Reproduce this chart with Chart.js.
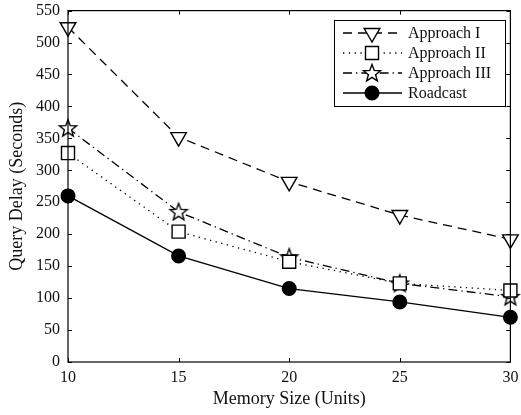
<!DOCTYPE html>
<html>
<head>
<meta charset="utf-8">
<script src="https://cdn.jsdelivr.net/npm/chart.js@4/dist/chart.umd.min.js"></script>
<style>
  html, body { margin: 0; padding: 0; background: #fff; }
  #wrap { width: 521px; height: 415px; }
</style>
</head>
<body>
<div id="wrap"><canvas id="chart" width="521" height="415"></canvas></div>
<script>
// data
const memorySizes = [10, 15, 20, 25, 30];
const approach1 = [524, 352, 282, 230, 192];
const approach2 = [327, 204, 157, 123, 112];
const approach3 = [366, 235, 164, 123, 102];
const roadcast = [260, 166, 115, 94, 70];
const yTicks = [0, 50, 100, 150, 200, 250, 300, 350, 400, 450, 500, 550];

const FONT = "'Liberation Serif', 'Times New Roman', serif";

// 5-pointed star marker (Chart.js 'star' is an asterisk)
function makeStar(outer, inner) {
    const size = Math.ceil(outer * 2 + 4);
    const c = document.createElement("canvas");
    c.width = size; c.height = size;
    const ctx = c.getContext("2d");
    const cx = size / 2, cy = size / 2 + 0.5;
    ctx.beginPath();
    for (let i = 0; i < 10; i++) {
        const r = i % 2 === 0 ? outer : inner;
        const a = -Math.PI / 2 + i * Math.PI / 5;
        const px = cx + r * Math.cos(a), py = cy + r * Math.sin(a);
        if (i === 0) ctx.moveTo(px, py); else ctx.lineTo(px, py);
    }
    ctx.closePath();
    ctx.fillStyle = "#fff";
    ctx.fill();
    ctx.lineWidth = 1.4;
    ctx.strokeStyle = "#000";
    ctx.stroke();
    return c;
}
const starImg = makeStar(9, 3.8);

function series(label, values, dash, style, radius, fill, rotation) {
    return {
        label: label,
        data: values,
        borderColor: "#000",
        borderWidth: 1.3,
        borderDash: dash,
        pointStyle: style,
        pointRadius: radius,
        pointHoverRadius: radius,
        pointRotation: rotation || 0,
        pointBackgroundColor: fill,
        pointBorderColor: "#000",
        pointBorderWidth: 1.4,
        fill: false,
        tension: 0,
        clip: false,
    };
}

// frame with inward ticks on all four sides
const framePlugin = {
    id: "frame",
    afterDatasetsDraw(chart) {
        const { ctx, chartArea: a, scales } = chart;
        ctx.save();
        ctx.strokeStyle = "#000";
        ctx.lineWidth = 1.2;
        ctx.strokeRect(a.left, a.top, a.right - a.left, a.bottom - a.top);
        ctx.lineWidth = 1;
        ctx.beginPath();
        memorySizes.forEach((v) => {
            const x = Math.round(scales.x.getPixelForValue(v)) + 0.5;
            ctx.moveTo(x, a.bottom); ctx.lineTo(x, a.bottom - 4);
            ctx.moveTo(x, a.top); ctx.lineTo(x, a.top + 4);
        });
        yTicks.forEach((v) => {
            const y = Math.round(scales.y.getPixelForValue(v)) + 0.5;
            ctx.moveTo(a.left, y); ctx.lineTo(a.left + 4, y);
            ctx.moveTo(a.right, y); ctx.lineTo(a.right - 4, y);
        });
        ctx.stroke();
        ctx.restore();
    },
};

// legend box inside the plot, top right
const legendPlugin = {
    id: "boxLegend",
    afterDraw(chart) {
        const ctx = chart.ctx;
        const box = { left: 334, top: 20, right: 505, bottom: 106 };
        ctx.save();
        ctx.fillStyle = "#fff";
        ctx.fillRect(box.left, box.top, box.right - box.left, box.bottom - box.top);
        ctx.strokeStyle = "#000";
        ctx.lineWidth = 1;
        ctx.strokeRect(box.left + 0.5, box.top + 0.5, box.right - box.left, box.bottom - box.top);
        chart.data.datasets.forEach((ds, i) => {
            const y = box.top + 13 + i * 20;
            ctx.save();
            ctx.strokeStyle = ds.borderColor;
            ctx.lineWidth = ds.borderWidth;
            ctx.setLineDash(ds.borderDash || []);
            ctx.beginPath();
            ctx.moveTo(343, y);
            ctx.lineTo(402, y);
            ctx.stroke();
            ctx.restore();
            ctx.save();
            ctx.fillStyle = ds.pointBackgroundColor;
            ctx.strokeStyle = ds.pointBorderColor;
            ctx.lineWidth = ds.pointBorderWidth;
            Chart.helpers.drawPoint(ctx, {
                pointStyle: ds.pointStyle,
                radius: ds.pointRadius,
                rotation: ds.pointRotation,
                borderWidth: ds.pointBorderWidth,
            }, 372, y);
            ctx.restore();
            ctx.fillStyle = "#111";
            ctx.font = "16px " + FONT;
            ctx.textBaseline = "middle";
            ctx.textAlign = "left";
            ctx.fillText(ds.label, 408, y + 1);
        });
        ctx.restore();
    },
};

new Chart(document.getElementById("chart"), {
    type: "line",
    data: {
        labels: memorySizes,
        datasets: [
            series("Approach I", approach1, [9, 6], "triangle", 9, "#fff", 180),
            series("Approach II", approach2, [1.3, 4.5], "rect", 9.2, "#fff"),
            series("Approach III", approach3, [9, 4, 1.3, 4], starImg, 9, "#fff"),
            series("Roadcast", roadcast, [], "circle", 6.8, "#000"),
        ],
    },
    options: {
        responsive: false,
        animation: false,
        events: [],
        layout: { padding: { top: 10, right: 8, left: 0, bottom: 0 } },
        plugins: {
            legend: { display: false },
            tooltip: { enabled: false },
        },
        scales: {
            x: {
                type: "linear",
                min: 10,
                max: 30,
                afterFit(scale) {
                    scale.height = 53;
                    scale.paddingLeft = 0;
                    scale.paddingRight = 0;
                },
                afterBuildTicks(scale) { scale.ticks = memorySizes.map((v) => ({ value: v })); },
                grid: { display: false, drawTicks: false },
                border: { display: false },
                ticks: { color: "#111", font: { family: FONT, size: 16 }, padding: 6, maxRotation: 0 },
                title: {
                    display: true,
                    text: "Memory Size (Units)",
                    color: "#111",
                    font: { family: FONT, size: 18 },
                    padding: { top: 0, bottom: 5 },
                },
            },
            y: {
                min: 0,
                max: 550,
                afterFit(scale) {
                    scale.width = 68;
                    scale.paddingTop = 0;
                    scale.paddingBottom = 0;
                },
                afterBuildTicks(scale) { scale.ticks = yTicks.map((v) => ({ value: v })); },
                grid: { display: false, drawTicks: false },
                border: { display: false },
                ticks: { color: "#111", font: { family: FONT, size: 16 }, padding: 8 },
                title: {
                    display: true,
                    text: "Query Delay (Seconds)",
                    color: "#111",
                    font: { family: FONT, size: 18 },
                    padding: { top: 6, bottom: 0 },
                },
            },
        },
    },
    plugins: [framePlugin, legendPlugin],
});
</script>
</body>
</html>
